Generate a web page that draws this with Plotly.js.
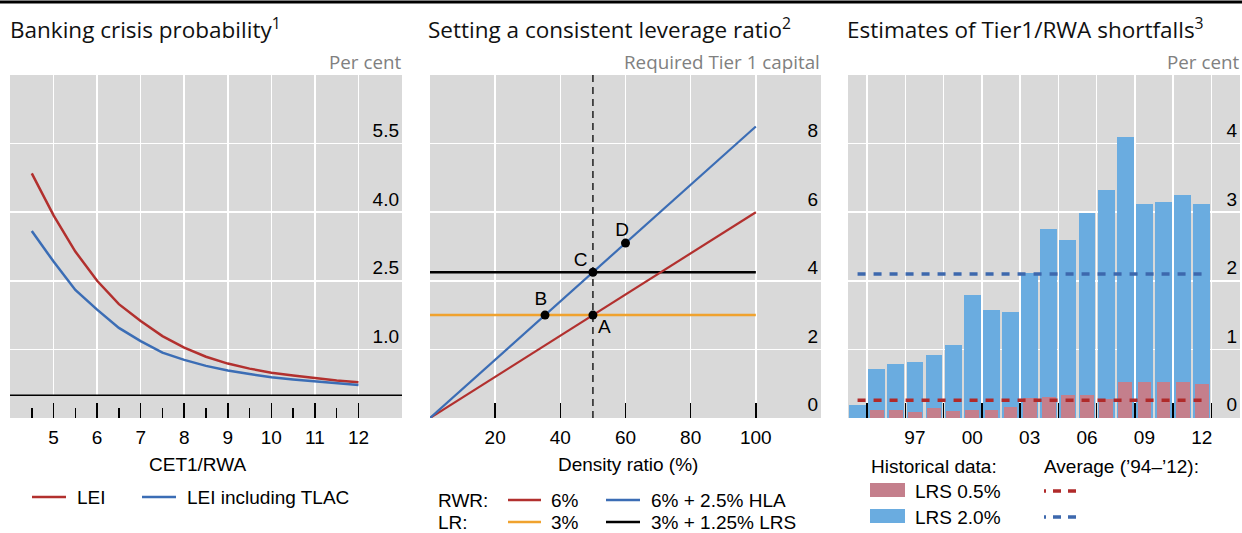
<!DOCTYPE html>
<html>
<head>
<meta charset="utf-8">
<script src="https://cdn.plot.ly/plotly-3.0.1.min.js"></script>
<style>html,body{margin:0;padding:0;background:#fff;}#chart{width:1242px;height:533px;}</style>
</head>
<body>
<div id="chart"></div>
<script>
// ---------- Data ----------
// Panel 1: Banking crisis probability
const cet1 = [4.5, 5, 5.5, 6, 6.5, 7, 7.5, 8, 8.5, 9, 9.5, 10, 10.5, 11, 11.5, 12];
const lei = [4.85, 3.93, 3.14, 2.50, 1.99, 1.62, 1.29, 1.04, 0.84, 0.69, 0.58, 0.49, 0.43, 0.37, 0.32, 0.28];
const leiTlac = [3.59, 2.92, 2.30, 1.87, 1.47, 1.18, 0.93, 0.77, 0.64, 0.54, 0.46, 0.39, 0.34, 0.30, 0.26, 0.22];
const p1TickVals = [4, 5, 6, 7, 8, 9, 10, 11, 12];
const p1TickText = ['', '5', '6', '7', '8', '9', '10', '11', '12'];
const p1YTicks = [1.0, 2.5, 4.0, 5.5];
const p1YText = ['1.0', '2.5', '4.0', '5.5'];

// Panel 2: Setting a consistent leverage ratio
const density = [0, 100];
const rwr6 = [0, 6];
const rwr85 = [0, 8.5];
const lr3 = [3, 3];
const lr425 = [4.25, 4.25];
const refDensity = [50, 50];
const refSpan = [0, 10];
const pointX = [50, 35.3, 50, 60];
const pointY = [3, 3, 4.25, 5.1];
const pointLabels = ['A', 'B', 'C', 'D'];
const labelX = [53.5, 34, 46.2, 59];
const labelY = [2.63, 3.42, 4.56, 5.45];
const p2TickVals = [0, 20, 40, 60, 80, 100];
const p2TickText = ['', '20', '40', '60', '80', '100'];
const p2YTicks = [0, 2, 4, 6, 8];

// Panel 3: Estimates of Tier1/RWA shortfalls
const years = [1994, 1995, 1996, 1997, 1998, 1999, 2000, 2001, 2002, 2003, 2004, 2005, 2006, 2007, 2008, 2009, 2010, 2011, 2012];
const lrs20 = [0.19, 0.72, 0.78, 0.82, 0.92, 1.07, 1.79, 1.58, 1.55, 2.12, 2.76, 2.60, 2.99, 3.32, 4.10, 3.12, 3.15, 3.25, 3.12];
const lrs05 = [0.0, 0.12, 0.12, 0.09, 0.14, 0.10, 0.12, 0.12, 0.16, 0.29, 0.30, 0.33, 0.33, 0.27, 0.53, 0.53, 0.52, 0.52, 0.49];
const avgYears = [1994, 2012];
const avg20 = [2.10, 2.10];
const avg05 = [0.26, 0.26];
const p3TickVals = [1997, 2000, 2003, 2006, 2009, 2012];
const p3TickText = ['97', '00', '03', '06', '09', '12'];
const p3GridVals = [1994.5, 1996.5, 1998.5, 2000.5, 2002.5, 2004.5, 2006.5, 2008.5, 2010.5, 2012.5];
const p3YTicks = [0, 1, 2, 3, 4];

// ---------- Styling ----------
const W = 1242, H = 533;
const px = x => x / W;
const py = y => 1 - y / H;
const RED = '#b2302e', BLUE = '#3b6db5', ORANGE = '#f0a22e', BLACK = '#000000';
const BAR_BLUE = '#6aace0', BAR_PINK = '#c47f8c';
const BG = '#d9d9d9';
const TF = {family: '"Open Sans", "Noto Sans", sans-serif', size: 22.5, color: '#111'};
const SF = {family: '"Open Sans", "Noto Sans", sans-serif', size: 18.8, color: '#808080'};
const AF = {family: '"Liberation Sans", Arial, sans-serif', size: 19, color: '#000'};

const yBottom = py(418), yTop = py(75);

function xAxisBase(domain, anchor) {
  return {
    domain: domain, anchor: anchor, showline: false, zeroline: false,
    showgrid: true, gridcolor: '#ffffff', gridwidth: 1.5,
    ticks: 'inside', ticklen: 15, tickwidth: 1.5, tickcolor: '#000',
    tickfont: AF, ticklabelstandoff: 6, fixedrange: true
  };
}
function yAxisBase(domain, anchor) {
  return {
    domain: domain, anchor: anchor, side: 'right', showline: false, zeroline: false,
    showgrid: true, gridcolor: '#ffffff', gridwidth: 1.5,
    ticks: '', ticklabelposition: 'inside top', tickfont: AF, fixedrange: true
  };
}

const traces = [
  // Panel 1
  {x: cet1, y: lei, type: 'scatter', mode: 'lines', line: {color: RED, width: 2.5}, xaxis: 'x', yaxis: 'y', showlegend: false, hoverinfo: 'skip'},
  {x: cet1, y: leiTlac, type: 'scatter', mode: 'lines', line: {color: BLUE, width: 2.5}, xaxis: 'x', yaxis: 'y', showlegend: false, hoverinfo: 'skip'},
  // Panel 2
  {x: refDensity, y: refSpan, type: 'scatter', mode: 'lines', line: {color: '#2a2a2a', width: 1.6, dash: '7px,5px'}, xaxis: 'x2', yaxis: 'y2', showlegend: false, hoverinfo: 'skip'},
  {x: density, y: lr3, type: 'scatter', mode: 'lines', line: {color: ORANGE, width: 2.5}, xaxis: 'x2', yaxis: 'y2', showlegend: false, hoverinfo: 'skip'},
  {x: density, y: lr425, type: 'scatter', mode: 'lines', line: {color: BLACK, width: 2.5}, xaxis: 'x2', yaxis: 'y2', showlegend: false, hoverinfo: 'skip'},
  {x: density, y: rwr6, type: 'scatter', mode: 'lines', line: {color: RED, width: 2.2}, xaxis: 'x2', yaxis: 'y2', showlegend: false, hoverinfo: 'skip'},
  {x: density, y: rwr85, type: 'scatter', mode: 'lines', line: {color: BLUE, width: 2.2}, xaxis: 'x2', yaxis: 'y2', showlegend: false, hoverinfo: 'skip'},
  {x: pointX, y: pointY, type: 'scatter', mode: 'markers', marker: {color: '#000', size: 9}, xaxis: 'x2', yaxis: 'y2', showlegend: false, hoverinfo: 'skip'},
  {x: labelX, y: labelY, text: pointLabels, type: 'scatter', mode: 'text', textfont: AF, xaxis: 'x2', yaxis: 'y2', showlegend: false, hoverinfo: 'skip'},
  // Panel 3
  {x: years, y: lrs20, type: 'bar', marker: {color: BAR_BLUE}, width: 0.88, xaxis: 'x3', yaxis: 'y3', showlegend: false, hoverinfo: 'skip'},
  {x: years, y: lrs05, type: 'bar', marker: {color: BAR_PINK}, width: 0.72, xaxis: 'x3', yaxis: 'y3', showlegend: false, hoverinfo: 'skip'},
  {x: avgYears, y: avg20, type: 'scatter', mode: 'lines', line: {color: '#3d68ad', width: 3.5, dash: '8px,8px'}, xaxis: 'x3', yaxis: 'y3', showlegend: false, hoverinfo: 'skip'},
  {x: avgYears, y: avg05, type: 'scatter', mode: 'lines', line: {color: '#b02a2a', width: 3.5, dash: '8px,8px'}, xaxis: 'x3', yaxis: 'y3', showlegend: false, hoverinfo: 'skip'}
];

const d1 = [px(10), px(402)], d2 = [px(430), px(821)], d3 = [px(848), px(1240)], dy = [yBottom, yTop];

const xa1 = Object.assign(xAxisBase(d1, 'y'), {
  range: [4, 13], tickmode: 'array', tickvals: p1TickVals, ticktext: p1TickText,
  minor: {tickmode: 'array', tickvals: [4.5, 5.5, 6.5, 7.5, 8.5, 9.5, 10.5, 11.5, 12.5], ticks: 'inside', ticklen: 10, tickwidth: 1.5, tickcolor: '#000', showgrid: false}
});
const ya1 = Object.assign(yAxisBase(dy, 'x'), {range: [-0.5, 7], tickmode: 'array', tickvals: p1YTicks, ticktext: p1YText});

const xa2 = Object.assign(xAxisBase(d2, 'y2'), {range: [0, 120], tickmode: 'array', tickvals: p2TickVals, ticktext: p2TickText});
const ya2 = Object.assign(yAxisBase(dy, 'x2'), {range: [0, 10], tickmode: 'array', tickvals: p2YTicks});

const xa3 = Object.assign(xAxisBase(d3, 'y3'), {
  range: [1993.5, 2014], tickmode: 'array', tickvals: p3TickVals, ticktext: p3TickText, ticks: '', showgrid: false,
  minor: {tickmode: 'array', tickvals: p3GridVals, ticks: 'inside', ticklen: 15, tickwidth: 1.5, tickcolor: '#000', showgrid: true, gridcolor: '#ffffff', gridwidth: 1.5}
});
const ya3 = Object.assign(yAxisBase(dy, 'x3'), {range: [0, 5], tickmode: 'array', tickvals: p3YTicks});

const shapes = [
  // top rule
  {type: 'line', xref: 'paper', yref: 'paper', x0: 0, x1: 1, y0: py(2), y1: py(2), line: {color: '#000', width: 3}},
  // panel 1: cover gridlines below zero, then zero line
  {type: 'rect', xref: 'x', yref: 'y', x0: 4, x1: 13, y0: -0.5, y1: 0, fillcolor: BG, line: {width: 0}, layer: 'between'},
  {type: 'line', xref: 'x', yref: 'y', x0: 4, x1: 13, y0: 0, y1: 0, line: {color: '#000', width: 1.5}, layer: 'between'},
  // panel 1 legend
  {type: 'line', xref: 'paper', yref: 'paper', x0: px(32), x1: px(66), y0: py(497), y1: py(497), line: {color: RED, width: 2.5}},
  {type: 'line', xref: 'paper', yref: 'paper', x0: px(142), x1: px(176), y0: py(497), y1: py(497), line: {color: BLUE, width: 2.5}},
  // panel 2 legend
  {type: 'line', xref: 'paper', yref: 'paper', x0: px(508), x1: px(541), y0: py(500), y1: py(500), line: {color: RED, width: 2.5}},
  {type: 'line', xref: 'paper', yref: 'paper', x0: px(606), x1: px(640), y0: py(500), y1: py(500), line: {color: BLUE, width: 2.5}},
  {type: 'line', xref: 'paper', yref: 'paper', x0: px(508), x1: px(541), y0: py(522), y1: py(522), line: {color: ORANGE, width: 2.5}},
  {type: 'line', xref: 'paper', yref: 'paper', x0: px(606), x1: px(640), y0: py(522), y1: py(522), line: {color: BLACK, width: 2.5}},
  // panel 3 legend
  {type: 'rect', xref: 'paper', yref: 'paper', x0: px(870), x1: px(905), y0: py(497), y1: py(483), fillcolor: BAR_PINK, line: {width: 0}},
  {type: 'rect', xref: 'paper', yref: 'paper', x0: px(870), x1: px(905), y0: py(523), y1: py(509), fillcolor: BAR_BLUE, line: {width: 0}},
  {type: 'line', xref: 'paper', yref: 'paper', x0: px(1044), x1: px(1078), y0: py(491), y1: py(491), line: {color: '#b02a2a', width: 3.5, dash: '2px,7px,8px,7px,8px'}},
  {type: 'line', xref: 'paper', yref: 'paper', x0: px(1044), x1: px(1078), y0: py(517), y1: py(517), line: {color: '#3d68ad', width: 3.5, dash: '2px,7px,8px,7px,8px'}}
];

function ann(text, x, y, xanchor, font) {
  return {text: text, xref: 'paper', yref: 'paper', x: px(x), y: py(y), xanchor: xanchor, yanchor: 'middle', showarrow: false, font: font};
}
const annotations = [
  ann('Banking crisis probability<sup>1</sup>', 8, 28, 'left', TF),
  ann('Setting a consistent leverage ratio<sup>2</sup>', 426, 28, 'left', TF),
  ann('Estimates of Tier1/RWA shortfalls<sup>3</sup>', 845, 28, 'left', TF),
  ann('Per cent', 403, 62, 'right', SF),
  ann('Required Tier 1 capital', 822, 62, 'right', SF),
  ann('Per cent', 1241, 62, 'right', SF),
  ann('CET1/RWA', 198, 464, 'center', AF),
  ann('Density ratio (%)', 628, 464, 'center', AF),
  ann('LEI', 75, 497, 'left', AF),
  ann('LEI including TLAC', 185, 497, 'left', AF),
  ann('RWR:', 436, 500, 'left', AF),
  ann('6%', 549, 500, 'left', AF),
  ann('6% + 2.5% HLA', 649, 500, 'left', AF),
  ann('LR:', 436, 522, 'left', AF),
  ann('3%', 549, 522, 'left', AF),
  ann('3% + 1.25% LRS', 649, 522, 'left', AF),
  ann('Historical data:', 869, 466, 'left', AF),
  ann('LRS 0.5%', 913, 491, 'left', AF),
  ann('LRS 2.0%', 913, 517, 'left', AF),
  ann('Average (’94–’12):', 1042, 466, 'left', AF)
];

const layout = {
  width: W, height: H, margin: {l: 0, r: 0, t: 0, b: 0},
  paper_bgcolor: '#ffffff', plot_bgcolor: BG,
  barmode: 'overlay', bargap: 0,
  showlegend: false,
  xaxis: xa1, yaxis: ya1, xaxis2: xa2, yaxis2: ya2, xaxis3: xa3, yaxis3: ya3,
  shapes: shapes, annotations: annotations,
  font: AF
};

Plotly.newPlot('chart', traces, layout, {staticPlot: true, displayModeBar: false});
</script>
</body>
</html>
